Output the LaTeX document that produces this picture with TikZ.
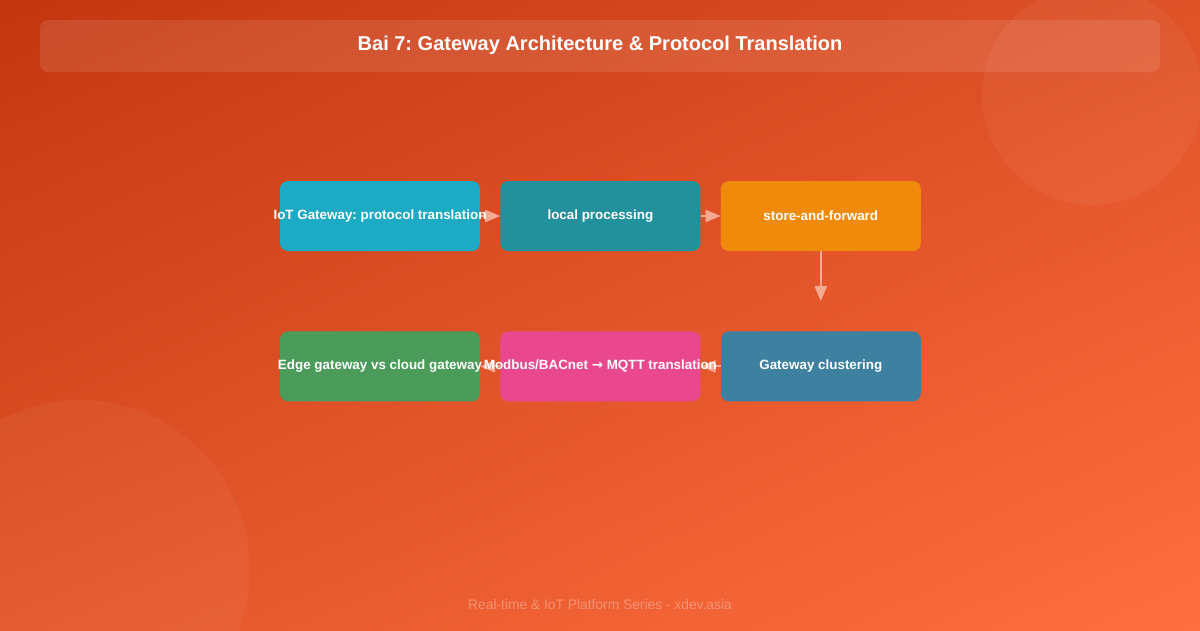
\documentclass[tikz,border=0pt]{standalone}
\usepackage{fontspec}
\setmainfont{Liberation Sans}
\newfontfamily\symfont{DejaVu Sans}
\usetikzlibrary{positioning,arrows.meta,shadings,backgrounds}
\definecolor{bgtl}{RGB}{196,54,16}
\definecolor{bgtr}{RGB}{222,82,40}
\definecolor{bgbl}{RGB}{226,86,42}
\definecolor{bgbr}{RGB}{255,110,62}
\definecolor{gwcol}{RGB}{28,170,196}
\definecolor{lpcol}{RGB}{35,145,155}
\definecolor{sfcol}{RGB}{240,138,10}
\definecolor{gccol}{RGB}{62,128,160}
\definecolor{mqcol}{RGB}{234,72,142}
\definecolor{egcol}{RGB}{75,155,90}
\definecolor{arrcol}{RGB}{246,170,148}
\newcommand{\overtext}[1]{\makebox[0pt]{#1}}
\tikzset{
  >={Triangle[length=15pt,width=12pt]},
}
\frenchspacing

\begin{document}
\begin{tikzpicture}[
  x=1pt,y=-1pt,
  node distance=20pt and 20pt,
  stage/.style={rounded corners=8pt,minimum width=200pt,minimum height=70pt,
    inner sep=0pt,text=white,font=\bfseries\fontsize{13.4}{16}\selectfont},
  flow/.style={->,draw=arrcol,fill=arrcol,line width=2pt}
]

% background
\useasboundingbox (0,0) rectangle (1200,630);

% title bar
\fill[white,opacity=0.1,rounded corners=8pt] (40,20) rectangle (1160,72);
\node[text=white,font=\bfseries\fontsize{20}{24}\selectfont] (title) at (600,45)
  {Bai 7: Gateway Architecture \& Protocol Translation};

\node[stage,fill=gwcol] (gw) at (380,216) {\overtext{IoT Gateway: protocol translation}};
\node[stage,fill=lpcol,right=of gw] (lp) {\overtext{local processing}};
\node[stage,fill=sfcol,right=of lp] (sf) {\overtext{store-and-forward}};

\node[stage,fill=gccol,below=80pt of sf] (gc) {\overtext{Gateway clustering}};
\node[stage,fill=mqcol,left=of gc] (mq) {\overtext{Modbus/BACnet {\symfont\bfseries →} MQTT translation}};
\node[stage,fill=egcol,left=of mq] (eg) {\overtext{Edge gateway vs cloud gateway}};

\node[text=white,opacity=0.32,font=\fontsize{13.8}{16}\selectfont] (foot) at (600,605)
  {Real-time \& IoT Platform Series - xdev.asia};

\begin{pgfonlayer}{background}
\shade[upper left=bgtl,upper right=bgtr,lower left=bgbl,lower right=bgbr]
  (0,0) rectangle (1200,630);
\fill[white,opacity=0.045] (1092,95) circle (110);
\fill[white,opacity=0.04] (80,570) circle (170);

\path[flow]
(gw) edge (lp)
(lp) edge (sf)
(sf) edge[shorten >=30pt] (gc)
(gc) edge (mq)
(mq) edge (eg);
\end{pgfonlayer}

\end{tikzpicture}
\end{document}
